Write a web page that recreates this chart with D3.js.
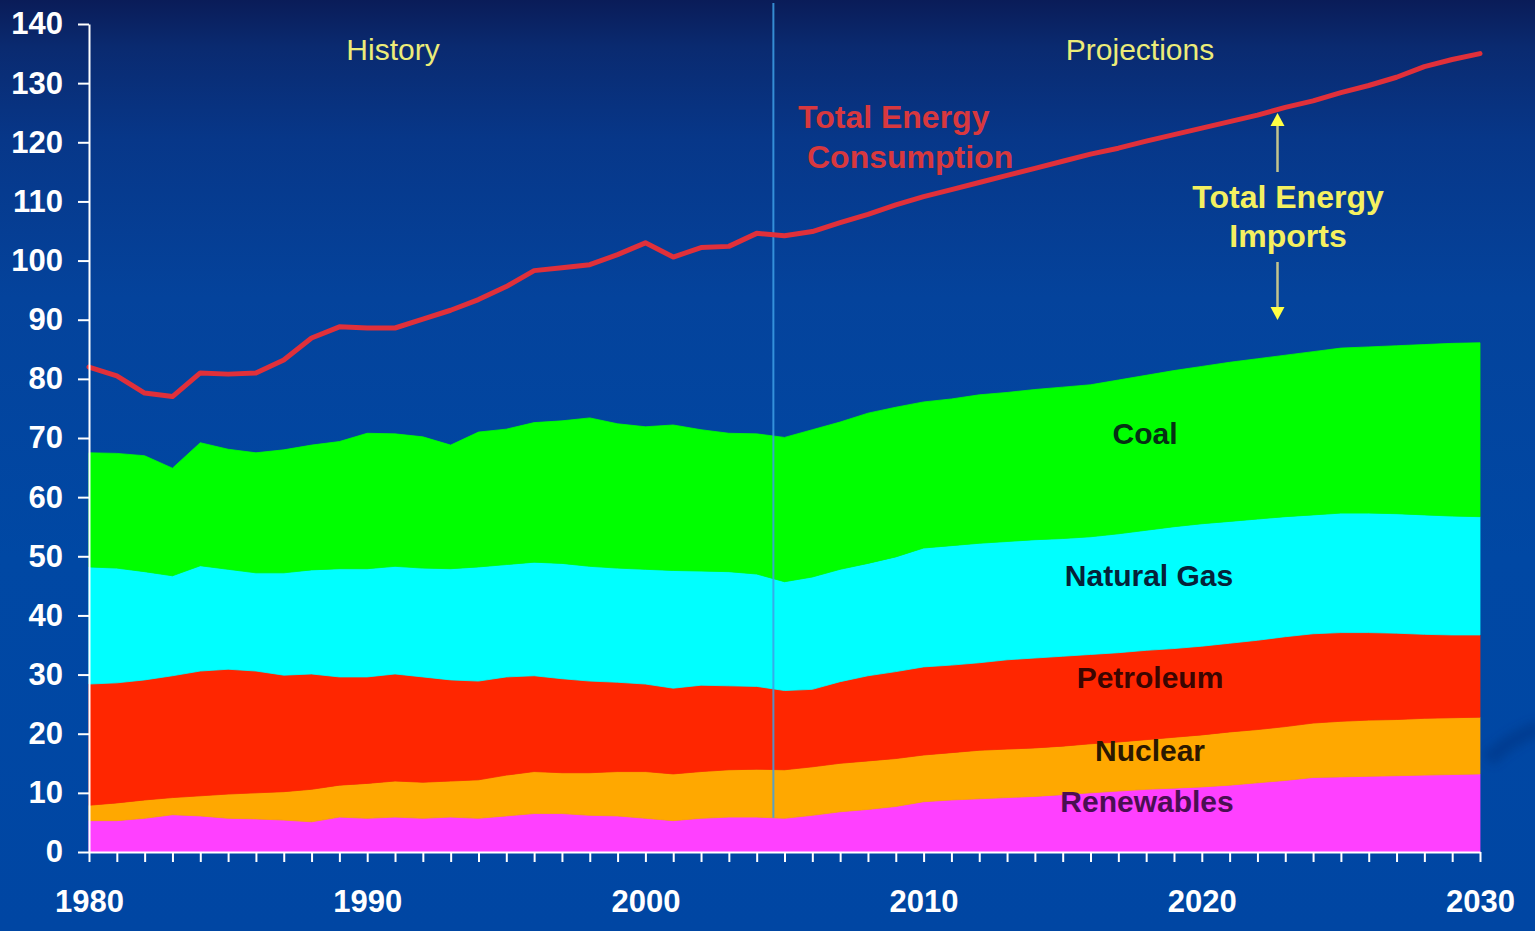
<!DOCTYPE html>
<html>
<head>
<meta charset="utf-8">
<script src="https://cdn.jsdelivr.net/npm/d3@7"></script>
<style>
  html, body { margin: 0; padding: 0; background: #0047a2; overflow: hidden; }
  svg { display: block; }
  text { font-family: "Liberation Sans", Arial, sans-serif; }
</style>
</head>
<body>
<svg id="chart" width="1535" height="931"></svg>
<script>
// ---- Data (quadrillion Btu) ----
const years = [1980,1981,1982,1983,1984,1985,1986,1987,1988,1989,
  1990,1991,1992,1993,1994,1995,1996,1997,1998,1999,
  2000,2001,2002,2003,2004,2005,2006,2007,2008,2009,
  2010,2011,2012,2013,2014,2015,2016,2017,2018,2019,
  2020,2021,2022,2023,2024,2025,2026,2027,2028,2029,2030];

const renewables = [5.3,5.3,5.7,6.3,6.1,5.7,5.6,5.4,5.1,5.9,
  5.7,5.9,5.7,5.9,5.7,6.1,6.5,6.5,6.2,6.1,
  5.7,5.3,5.7,5.9,5.9,5.7,6.2,6.8,7.2,7.7,
  8.5,8.8,9.0,9.2,9.4,9.7,10.0,10.3,10.6,10.8,
  11.0,11.3,11.7,12.1,12.6,12.7,12.8,12.9,13.0,13.1,13.2];

const nuclear = [2.6,3.0,3.1,2.9,3.4,4.1,4.4,4.8,5.5,5.4,
  5.9,6.1,6.1,6.1,6.5,6.9,7.1,6.9,7.2,7.5,
  7.9,7.9,7.9,8.0,8.1,8.2,8.2,8.2,8.2,8.1,
  7.9,8.0,8.2,8.2,8.2,8.2,8.3,8.3,8.4,8.6,
  8.8,9.0,9.0,9.1,9.2,9.4,9.5,9.5,9.6,9.6,9.6];

const petroleum = [20.5,20.3,20.3,20.6,21.1,21.1,20.6,19.7,19.5,18.3,
  18.0,18.1,17.8,17.1,16.7,16.6,16.2,15.9,15.5,15.1,
  14.8,14.5,14.6,14.2,14.0,13.4,13.1,13.8,14.4,14.7,
  14.9,14.8,14.8,15.1,15.2,15.2,15.1,15.1,15.1,15.0,
  15.0,15.0,15.1,15.2,15.1,15.0,14.8,14.6,14.2,14.0,13.9];

const naturalGas = [19.8,19.4,18.3,16.9,17.8,16.9,16.6,17.3,17.6,18.3,
  18.3,18.2,18.4,18.8,19.3,19.0,19.2,19.5,19.4,19.3,
  19.4,19.9,19.3,19.3,19.0,18.4,19.0,19.0,19.0,19.4,
  20.1,20.2,20.2,20.0,20.0,19.9,19.9,20.1,20.3,20.6,
  20.7,20.6,20.5,20.3,20.1,20.2,20.2,20.2,20.2,20.1,20.0];

const coal = [19.3,19.4,19.6,18.2,20.8,20.3,20.3,20.8,21.1,21.5,
  22.9,22.4,22.2,20.9,22.8,22.9,23.6,24.1,25.1,24.4,
  24.1,24.6,23.9,23.4,23.7,24.4,24.9,24.9,25.4,25.3,
  24.7,24.8,25.1,25.2,25.4,25.6,25.7,26.0,26.2,26.4,
  26.6,26.9,27.1,27.3,27.6,27.9,28.1,28.4,28.8,29.2,29.4];

const totalConsumption = [82.0,80.5,77.6,77.0,81.0,80.8,81.0,83.2,86.9,88.8,
  88.6,88.6,90.1,91.6,93.4,95.6,98.3,98.8,99.3,101.0,
  103.0,100.6,102.2,102.4,104.6,104.2,104.9,106.4,107.8,109.4,
  110.8,112.0,113.2,114.4,115.6,116.8,118.0,119.0,120.2,121.3,
  122.4,123.5,124.6,125.9,127.0,128.4,129.6,131.0,132.8,134.0,135.0];

const seriesKeys = ["Renewables","Nuclear","Petroleum","Natural Gas","Coal"];
const seriesColors = ["#ff40ff","#ffa800","#ff2600","#00ffff","#00ff00"];
const labelColors = ["#4a0f52","#2a1800","#3a0500","#062238","#063014"];
const yTicks = [0,10,20,30,40,50,60,70,80,90,100,110,120,130,140];
const xLabelYears = [1980,1990,2000,2010,2020,2030];
const historyEnd = 2004.6;

// ---- Build table for the stack ----
const table = years.map((yr, i) => ({
  year: yr,
  "Renewables": renewables[i],
  "Nuclear": nuclear[i],
  "Petroleum": petroleum[i],
  "Natural Gas": naturalGas[i],
  "Coal": coal[i]
}));

const svg = d3.select("#chart");
const W = 1535, H = 931;

// ---- Background gradient ----
const defs = svg.append("defs");
const bg = defs.append("linearGradient").attr("id","bg").attr("x1",0).attr("y1",0).attr("x2",0).attr("y2",1);
[[0,"#0a1c58"],[0.05,"#0a2a70"],[0.15,"#073789"],[0.32,"#04439c"],[0.6,"#0048a4"],[1,"#0046a3"]]
  .forEach(([o,c]) => bg.append("stop").attr("offset",o).attr("stop-color",c));
svg.append("rect").attr("width",W).attr("height",H).attr("fill","url(#bg)");

// faint background swoosh on the right edge
const blur = defs.append("filter").attr("id","soft").attr("x","-50%").attr("y","-50%").attr("width","200%").attr("height","200%");
blur.append("feGaussianBlur").attr("stdDeviation",5);
svg.append("path")
  .attr("d","M1488,760 Q1510,738 1540,728")
  .attr("fill","none").attr("stroke","#04327e").attr("stroke-width",16)
  .attr("opacity",0.45).attr("filter","url(#soft)");

// ---- Scales ----
const x = d3.scaleLinear().domain([1980,2030]).range([89,1480]);
const y = d3.scaleLinear().domain([0,140]).range([852,24]);

// ---- Stacked areas ----
const stack = d3.stack().keys(seriesKeys);
const layers = stack(table);
const area = d3.area()
  .x(d => x(d.data.year))
  .y0(d => y(d[0]))
  .y1(d => y(d[1]))
  .curve(d3.curveLinear);

svg.append("g").selectAll("path")
  .data(layers)
  .join("path")
  .attr("d", area)
  .attr("fill", (d,i) => seriesColors[i])
  .attr("stroke", (d,i) => seriesColors[i])
  .attr("stroke-width", 0.8);

// ---- History / projection divider ----
svg.append("line")
  .attr("x1", x(historyEnd)).attr("x2", x(historyEnd))
  .attr("y1", 3).attr("y2", y(5.8))
  .attr("stroke", "#3d9fe6").attr("stroke-width", 2).attr("opacity", 0.85);

// ---- Total consumption line ----
const line = d3.line()
  .x((d,i) => x(years[i]))
  .y(d => y(d))
  .curve(d3.curveLinear);
svg.append("path")
  .datum(totalConsumption)
  .attr("d", line)
  .attr("fill","none")
  .attr("stroke","#e0303a")
  .attr("stroke-width",5)
  .attr("stroke-linejoin","round")
  .attr("stroke-linecap","round");

// ---- Axes ----
const yAxis = d3.axisLeft(y)
  .tickValues(yTicks)
  .tickFormat(d3.format("d"))
  .tickSize(11).tickSizeOuter(0).tickPadding(15);
const gy = svg.append("g").attr("transform","translate(89,0)").call(yAxis);
gy.select(".domain").attr("stroke","#ffffff").attr("stroke-width",2);
gy.selectAll(".tick line").attr("stroke","#ffffff").attr("stroke-width",2);
gy.selectAll(".tick text")
  .attr("fill","#ffffff")
  .style("font-size","31px").style("font-weight","bold")
  .style("font-family","'Liberation Sans', Arial, sans-serif");

const xAxis = d3.axisBottom(x)
  .tickValues(years)
  .tickFormat(d => xLabelYears.includes(d) ? String(d) : "")
  .tickSize(10).tickSizeOuter(0).tickPadding(28);
const gx = svg.append("g").attr("transform","translate(0,852)").call(xAxis);
gx.select(".domain").attr("stroke","#ffffff").attr("stroke-width",2);
gx.selectAll(".tick line").attr("stroke","#ffffff").attr("stroke-width",2);
gx.selectAll(".tick text")
  .attr("fill","#ffffff")
  .style("font-size","31px").style("font-weight","bold")
  .style("font-family","'Liberation Sans', Arial, sans-serif");

// ---- Section headings ----
svg.append("text").attr("x",393).attr("y",60).attr("text-anchor","middle")
  .attr("fill","#ecec78").style("font-size","30px").text("History");
svg.append("text").attr("x",1140).attr("y",60).attr("text-anchor","middle")
  .attr("fill","#ecec78").style("font-size","30px").text("Projections");

// ---- Total energy consumption label ----
svg.append("text").attr("x",798).attr("y",128)
  .attr("fill","#d8383e").style("font-size","32px").style("font-weight","bold").text("Total Energy");
svg.append("text").attr("x",807).attr("y",168)
  .attr("fill","#d8383e").style("font-size","32px").style("font-weight","bold").text("Consumption");

// ---- Total energy imports label and arrows ----
const ax = 1277.5;
svg.append("text").attr("x",1288).attr("y",208).attr("text-anchor","middle")
  .attr("fill","#f4f060").style("font-size","32px").style("font-weight","bold").text("Total Energy");
svg.append("text").attr("x",1288).attr("y",247).attr("text-anchor","middle")
  .attr("fill","#f4f060").style("font-size","32px").style("font-weight","bold").text("Imports");
svg.append("line").attr("x1",ax).attr("x2",ax).attr("y1",124).attr("y2",172)
  .attr("stroke","#c4c48c").attr("stroke-width",2.5);
svg.append("path").attr("d",`M${ax},113 L${ax-7},126 L${ax+7},126 Z`).attr("fill","#ffff44");
svg.append("line").attr("x1",ax).attr("x2",ax).attr("y1",262).attr("y2",309)
  .attr("stroke","#c4c48c").attr("stroke-width",2.5);
svg.append("path").attr("d",`M${ax},320 L${ax-7},307 L${ax+7},307 Z`).attr("fill","#ffff44");

// ---- Series labels ----
const labelPos = [[1147,812],[1150,761],[1150,688],[1149,586],[1145,444]];
seriesKeys.forEach((k,i) => {
  svg.append("text").attr("x",labelPos[i][0]).attr("y",labelPos[i][1])
    .attr("text-anchor","middle")
    .attr("fill",labelColors[i])
    .style("font-size","30px").style("font-weight","bold")
    .text(k);
});
</script>
</body>
</html>
